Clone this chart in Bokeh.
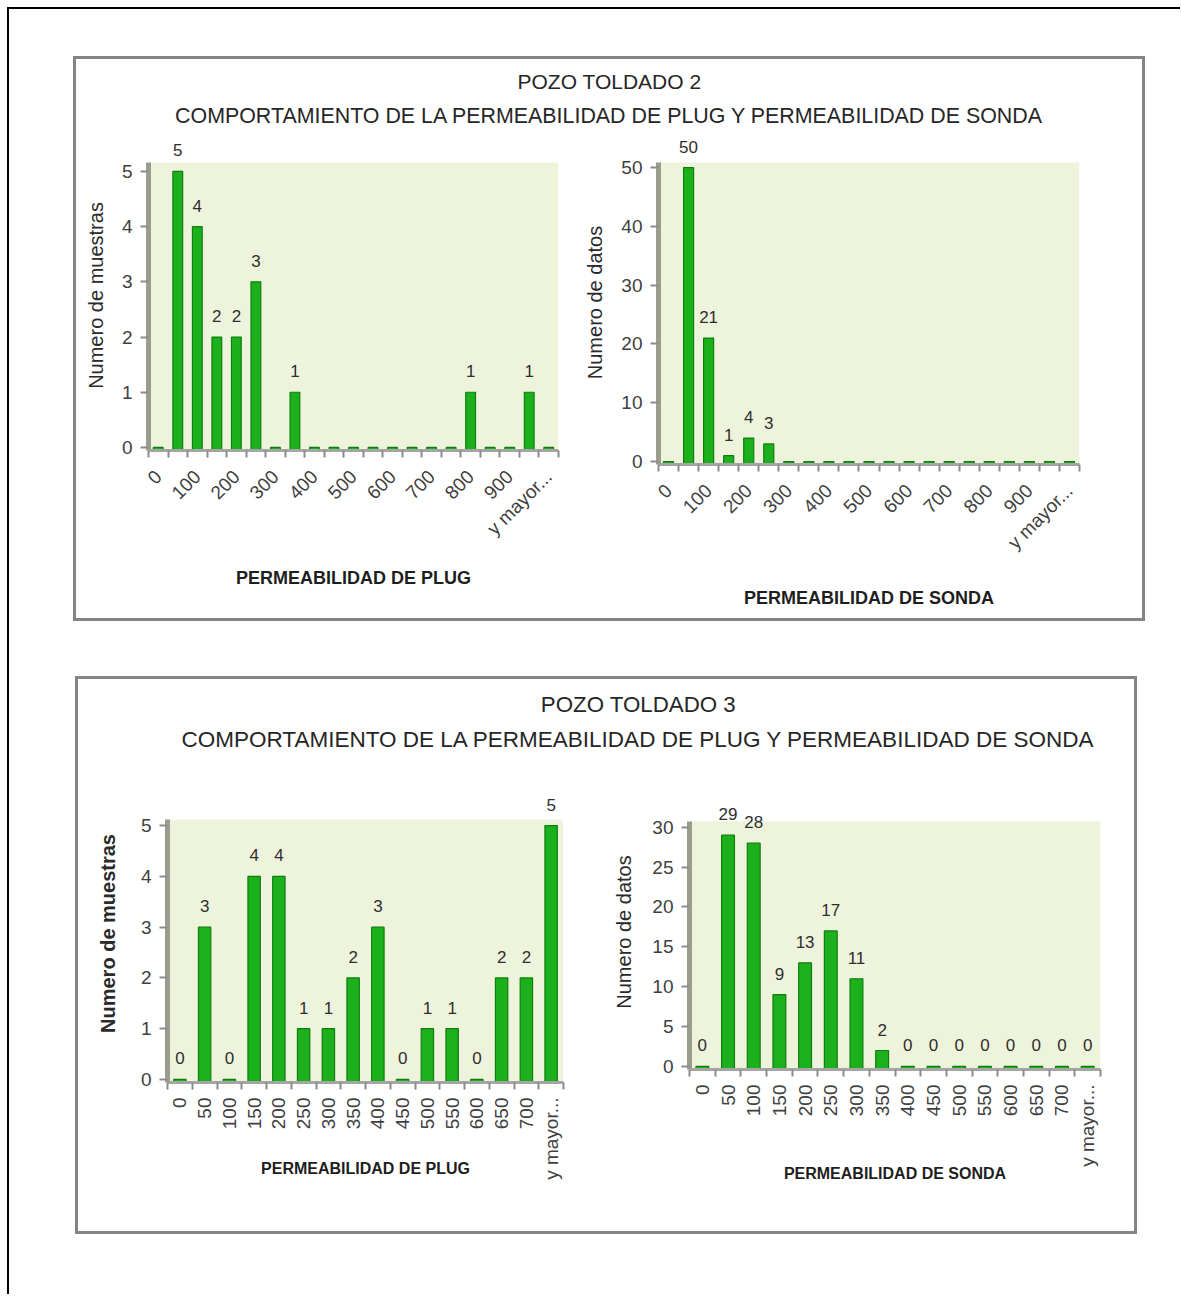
import math
from bokeh.plotting import figure
from bokeh.models import (ColumnDataSource, LabelSet, FixedTicker, Range1d, Spacer, Title,
                          BoxAnnotation)
from bokeh.core.properties import value
from bokeh.layouts import column, row
from bokeh.embed import file_html
from bokeh.resources import INLINE

# ---------------- data ----------------
titles_t2 = ["POZO TOLDADO 2",
             "COMPORTAMIENTO DE LA PERMEABILIDAD DE PLUG Y PERMEABILIDAD DE SONDA"]
titles_t3 = ["POZO TOLDADO 3",
             "COMPORTAMIENTO DE LA PERMEABILIDAD DE PLUG Y PERMEABILIDAD DE SONDA"]

cats_t2 = ["0", "50", "100", "150", "200", "250", "300", "350", "400", "450", "500",
           "550", "600", "650", "700", "750", "800", "850", "900", "950", "y mayor..."]
plug_t2 = [0, 5, 4, 2, 2, 3, 0, 1, 0, 0, 0, 0, 0, 0, 0, 0, 1, 0, 0, 1, 0]
sonda_t2 = [0, 50, 21, 1, 4, 3, 0, 0, 0, 0, 0, 0, 0, 0, 0, 0, 0, 0, 0, 0, 0]

cats_t3 = ["0", "50", "100", "150", "200", "250", "300", "350", "400", "450", "500",
           "550", "600", "650", "700", "y mayor..."]
plug_t3 = [0, 3, 0, 4, 4, 1, 1, 2, 3, 0, 1, 1, 0, 2, 2, 5]
sonda_t3 = [0, 29, 28, 9, 13, 17, 11, 2, 0, 0, 0, 0, 0, 0, 0, 0]

yticks_plug = [0, 1, 2, 3, 4, 5]
yticks_sonda_t2 = [0, 10, 20, 30, 40, 50]
yticks_sonda_t3 = [0, 5, 10, 15, 20, 25, 30]

# ---------------- style ----------------
SANS = "Liberation Sans"
BAR = "#1DB01D"
BAR_LINE = "#0D7F0D"
BG = "#EEF4DC"
TXT = "#2E2E2E"


def chart(cats, vals, every, ylabel, ylabel_style, xlabel, yticks, yr, bg_top,
          width, height, mb, orient, label_zeros, ylabel_standoff, xlabel_standoff,
          xlab_standoff, xlabel_size):
    n = len(cats)
    xs = list(range(n))
    p = figure(width=width, height=height, toolbar_location=None, output_backend="svg",
               x_range=Range1d(-0.5, n - 0.5), y_range=Range1d(yr[0], yr[1]),
               min_border_left=mb[0], min_border_right=mb[1],
               min_border_top=mb[2], min_border_bottom=mb[3])
    p.background_fill_color = "white"
    p.border_fill_color = "white"
    p.outline_line_color = None
    p.grid.visible = False
    p.add_layout(BoxAnnotation(top=bg_top, fill_color=BG, fill_alpha=1.0,
                               line_color=None, level="underlay"))
    src = ColumnDataSource(dict(x=xs, top=vals))
    p.vbar(x="x", top="top", bottom=yr[0], width=0.5, source=src, fill_color=BAR,
           line_color=BAR_LINE, line_width=1.2)
    lx = [x for x, v in zip(xs, vals) if label_zeros or v != 0]
    lv = [v for v in vals if label_zeros or v != 0]
    lsrc = ColumnDataSource(dict(x=lx, y=lv, t=[str(v) for v in lv]))
    p.add_layout(LabelSet(x="x", y="y", text="t", source=lsrc, text_align="center",
                          text_baseline="bottom", y_offset=15, text_font=value(SANS),
                          text_font_size="17px", text_color=TXT))
    # x axis
    ticks = list(range(0, n, every))
    p.xaxis.ticker = FixedTicker(ticks=ticks, minor_ticks=[i - 0.5 for i in range(n + 1)])
    p.xaxis.major_label_overrides = {i: cats[i] for i in ticks}
    p.xaxis.major_label_orientation = orient
    p.xaxis.major_tick_out = 0
    p.xaxis.major_tick_in = 0
    p.xaxis.minor_tick_out = 7
    p.xaxis.minor_tick_in = 0
    p.xaxis.minor_tick_line_color = "#8C8C8C"
    p.xaxis.minor_tick_line_width = 2
    p.xaxis.axis_line_color = "#A5A5A5"
    p.xaxis.axis_line_width = 3
    p.xaxis.major_label_text_font = SANS
    p.xaxis.major_label_text_font_size = "19px"
    p.xaxis.major_label_text_color = "#404040"
    p.xaxis.major_label_standoff = xlab_standoff
    p.xaxis.axis_label = xlabel
    p.xaxis.axis_label_text_font = SANS
    p.xaxis.axis_label_text_font_style = "bold"
    p.xaxis.axis_label_text_font_size = xlabel_size
    p.xaxis.axis_label_text_color = "#1E1E1E"
    p.xaxis.axis_label_standoff = xlabel_standoff
    # y axis
    p.yaxis.ticker = FixedTicker(ticks=yticks, minor_ticks=[])
    p.yaxis.bounds = (yr[0], bg_top)
    p.yaxis.major_tick_out = 8
    p.yaxis.major_tick_in = 0
    p.yaxis.major_tick_line_color = "#8C8C8C"
    p.yaxis.major_tick_line_width = 2
    p.yaxis.axis_line_color = "#9C9C8C"
    p.yaxis.axis_line_width = 5
    p.yaxis.major_label_text_font = SANS
    p.yaxis.major_label_text_font_size = "19px"
    p.yaxis.major_label_text_color = "#404040"
    p.yaxis.major_label_standoff = 8
    p.yaxis.axis_label = ylabel
    p.yaxis.axis_label_text_font = SANS
    p.yaxis.axis_label_text_font_style = ylabel_style
    p.yaxis.axis_label_text_font_size = "20px"
    p.yaxis.axis_label_text_color = "#2A2A2A"
    p.yaxis.axis_label_standoff = ylabel_standoff
    return column(p, spacing=0)


def title_fig(lines, width, height, size1, size2, standoff, left):
    t = figure(width=width, height=height, toolbar_location=None, output_backend="svg",
               title=None, min_border_top=0, min_border_bottom=0,
               min_border_left=left, min_border_right=0)
    t.xaxis.visible = False
    t.yaxis.visible = False
    t.grid.visible = False
    t.outline_line_color = None
    t.add_layout(Title(text=lines[1], align="center", text_font=SANS,
                       text_font_size=size2, text_font_style="normal",
                       text_color="#262626", standoff=standoff), "above")
    t.add_layout(Title(text=lines[0], align="center", text_font=SANS,
                       text_font_size=size1, text_font_style="normal",
                       text_color="#262626", standoff=standoff), "above")
    return t


# frame tops/bottoms chosen so that the axes sit where the reference puts them
c1 = chart(cats_t2, plug_t2, 2, "Numero de muestras", "normal", "PERMEABILIDAD DE PLUG",
           yticks_plug, (-0.055, 5.56), 5.16, 505, 479, (72, 23, 1, 168),
           math.pi / 4, False, 12, 18, 16, "18px")
c2 = chart(cats_t2, sonda_t2, 2, "Numero de datos", "normal", "PERMEABILIDAD DE SONDA",
           yticks_sonda_t2, (-0.5, 54.6), 50.85, 561, 479, (74, 63, 1, 154),
           math.pi / 4, False, 12, 24, 16, "18px")
c3 = chart(cats_t3, plug_t3, 1, "Numero de muestras", "bold", "PERMEABILIDAD DE PLUG",
           yticks_plug, (-0.06, 5.81), 5.12, 521, 462, (89, 36, 15, 149),
           math.pi / 2, True, 19, -23, 8, "16px")
c4 = chart(cats_t3, sonda_t3, 1, "Numero de datos", "normal", "PERMEABILIDAD DE SONDA",
           yticks_sonda_t3, (-0.38, 34.1), 30.75, 535, 462, (90, 34, 25, 162),
           math.pi / 2, True, 14, -5, 8, "16px")

t1 = title_fig(titles_t2, 1066, 76, "21px", "21.4px", 9, 0)
t2 = title_fig(titles_t3, 1056, 84, "22.3px", "22.5px", 8, 64)

panel1 = column(Spacer(width=10, height=4), t1, row(c1, c2, spacing=0), spacing=0,
                styles={"border": "3px solid #858585"})
panel2 = column(Spacer(width=10, height=6), t2, row(c3, c4, spacing=0), spacing=0,
                styles={"border": "3px solid #858585"})

root = column(
    Spacer(width=1171, height=47),
    row(Spacer(width=64, height=10), panel1, spacing=0),
    Spacer(width=10, height=55),
    row(Spacer(width=66, height=10), panel2, spacing=0),
    Spacer(width=1171, height=60),
    spacing=0,
    styles={"border-top": "2px solid #000000", "border-left": "2px solid #000000"},
)

page = column(Spacer(width=10, height=7),
              row(Spacer(width=7, height=10), root, spacing=0),
              spacing=0)

open("out.html", "w").write(file_html(page, INLINE))
